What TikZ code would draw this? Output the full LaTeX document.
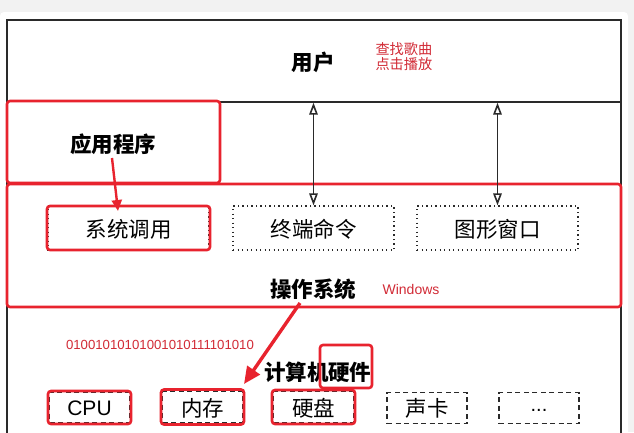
\documentclass[tikz,border=0pt]{standalone}
\usepackage{fontspec}
\setmainfont{Liberation Sans}
\newfontfamily\cjk{Noto Sans CJK SC}
\usetikzlibrary{arrows.meta}
\definecolor{hl}{HTML}{E8232E}
\definecolor{hltext}{HTML}{D22B36}
\definecolor{bggray}{HTML}{F2F2F2}
\definecolor{frame}{HTML}{2A2A2A}
\tikzset{
  bigtext/.style={font=\cjk\bfseries\fontsize{21.5}{24}\selectfont, text=black},
  boxtext/.style={font=\cjk\fontsize{21.5}{24}\selectfont, text=black},
  redbox/.style={draw=hl, line width=2.6pt, rounded corners=3pt, inner sep=0pt},
  dotbox/.style={draw=frame, line width=1.3pt, dash pattern=on 1.3pt off 3.2pt, inner sep=0pt, minimum width=161pt, minimum height=44pt},
  dashbox/.style={draw=frame, line width=1.2pt, dash pattern=on 5pt off 3.5pt, inner sep=0pt, minimum width=80pt, minimum height=31pt},
  note/.style={font=\cjk\fontsize{14.2}{16}\selectfont, text=hltext},
  biarrow/.style={draw=frame, line width=1.7pt, {Triangle[open, length=12pt, width=8.5pt, line width=1.6pt]}-{Triangle[open, length=12pt, width=8.5pt, line width=1.6pt]}},
}
\begin{document}
\begin{tikzpicture}[x=1pt, y=-1pt]
\useasboundingbox (0,0) rectangle (634,432);
\fill[bggray] (0,0) rectangle (634,432);
\fill[white, rounded corners=4pt] (0,12) rectangle (628,440);
% outer frame
\draw[frame, line width=1.4pt] (7,440) -- (7,20) -- (621,20) -- (621,440);
% user box
\node[draw=frame, line width=1.4pt, minimum width=614pt, minimum height=82pt, inner sep=0pt] (user) at (314,61) {};
\node[bigtext] (usertxt) at (313,62) {用户};
\node[note, align=left, anchor=west] (usernote) at (372,57) {查找歌曲\\[-1pt]点击播放};
% application box
\node[redbox, fill=white, minimum width=213pt, minimum height=82pt] (app) at (113.5,142) {};
\node[bigtext] (apptxt) at (113,144) {应用程序};
% OS box
\node[redbox, minimum width=614pt, minimum height=123pt] (os) at (314,245.5) {};
\node[dotbox] (sysin) at (128.5,228) {};
\node[redbox, minimum width=163pt, minimum height=44pt] (sys) at (128.5,228) {};
\node[boxtext] (systxt) at (128.5,229) {系统调用};
\node[dotbox] (term) at (313.5,228) {};
\node[boxtext] (termtxt) at (313.5,229) {终端命令};
\node[dotbox] (gui) at (497.5,228) {};
\node[boxtext] (guitxt) at (497.5,229) {图形窗口};
\node[bigtext] (ostxt) at (313,289) {操作系统};
\node[note, font=\fontsize{14}{16}\selectfont] (win) at (411,289) {Windows};
% bidirectional arrows
\draw[biarrow] (term.north |- user.south) -- (term.north);
\draw[biarrow] (gui.north |- user.south) -- (gui.north);
% app -> syscall
\coordinate (appfrom) at (112,158);
\coordinate (systop) at (118,211);
\draw[draw=hl, line width=2.4pt, -{Triangle[length=11pt, width=10pt]}] (appfrom) -- (systop);
% hardware
\node[note, font=\fontsize{13.2}{16}\selectfont] (bits) at (160,345) {01001010101001010111101010};
\node[bigtext, anchor=east, inner sep=0pt] (hwa) at (329,372) {计算机};
\node[bigtext, anchor=west, inner sep=0pt] (hwb) at (328,372) {硬件};
\node[redbox, minimum width=52pt, minimum height=43pt] (hwbox) at (346,366.5) {};
\coordinate (osfrom) at (300,303);
\coordinate (hwto) at (244,384);
\draw[draw=hl, line width=3.4pt, -{Triangle[length=17pt, width=15pt]}] (osfrom) -- (hwto);
% hardware components
\node[dashbox] (cpuin) at (89.5,407.5) {};
\node[redbox, minimum width=83pt, minimum height=33pt] (cpu) at (89.5,407.5) {};
\node[boxtext, font=\fontsize{21}{24}\selectfont] (cputxt) at (89.5,408) {CPU};
\node[dashbox] (memin) at (202.5,407) {};
\node[redbox, minimum width=83pt, minimum height=35pt] (mem) at (202.5,407) {};
\node[boxtext] (memtxt) at (202.5,408) {内存};
\node[dashbox] (diskin) at (313.5,407) {};
\node[redbox, minimum width=83pt, minimum height=34pt] (disk) at (313.5,407) {};
\node[boxtext] (disktxt) at (313.5,408) {硬盘};
\node[dashbox] (sound) at (427,408) {};
\node[boxtext] (soundtxt) at (427,408) {声卡};
\node[dashbox] (more) at (539,408) {};
\node[boxtext, font=\fontsize{20}{22}\selectfont] (moretxt) at (539,410) {...};
\end{tikzpicture}
\end{document}
